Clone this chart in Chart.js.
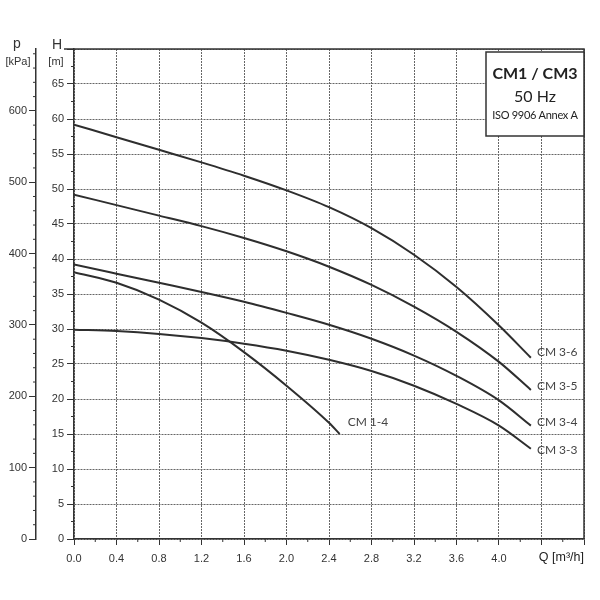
<!DOCTYPE html>
<html>
<head>
<meta charset="utf-8">
<script src="https://cdn.jsdelivr.net/npm/chart.js@4.4.1/dist/chart.umd.min.js"></script>
<style>
  html, body { margin: 0; padding: 0; background: #fff; }
</style>
</head>
<body>
<canvas id="pumpChart" width="600" height="600"></canvas>
<script>
// Caudal Q [m3/h] y altura H [m]
const flowCM3 = [0, 0.4, 0.8, 1.2, 1.6, 2.0, 2.4, 2.8, 3.2, 3.6, 4.0, 4.3];
const headCM36 = [59.2, 57.4, 55.6, 53.8, 51.9, 49.8, 47.4, 44.4, 40.6, 36.0, 30.5, 25.9];
const headCM35 = [49.2, 47.7, 46.2, 44.7, 43.0, 41.1, 38.9, 36.3, 33.2, 29.6, 25.3, 21.3];
const headCM34 = [39.2, 37.9, 36.6, 35.3, 33.9, 32.3, 30.6, 28.6, 26.2, 23.3, 19.8, 16.2];
const headCM33 = [29.9, 29.7, 29.3, 28.7, 27.9, 26.9, 25.6, 24.0, 21.9, 19.3, 16.2, 12.9];
const flowCM14 = [0, 0.4, 0.8, 1.2, 1.6, 2.0, 2.4, 2.5];
const headCM14 = [38.1, 36.6, 34.2, 30.9, 26.7, 21.9, 16.6, 15.0];

const curveNames = ['CM 3-6', 'CM 3-5', 'CM 3-4', 'CM 3-3', 'CM 1-4'];
const boxLines = ['CM1 / CM3', '50 Hz', 'ISO 9906 Annex A'];

const H_MAX = 70;
const P_MAX = H_MAX * 9.81;   // kPa equivalente

const LINE = '#2e2e2e';
const GRID = '#666';
const TEXT = '#333';
const TICK_FONT = { family: 'Liberation Sans', size: 11 };

function toPoints(xs, ys) {
    return xs.map((x, i) => ({ x: x, y: ys[i] }));
}

const seriesData = [
    toPoints(flowCM3, headCM36),
    toPoints(flowCM3, headCM35),
    toPoints(flowCM3, headCM34),
    toPoints(flowCM3, headCM33),
    toPoints(flowCM14, headCM14)
];

// desplazamiento de las etiquetas respecto al final de cada curva
const labelOffsets = {
    'CM 3-6': [6, -6],
    'CM 3-5': [6, -4],
    'CM 3-4': [6, -3],
    'CM 3-3': [6, 1],
    'CM 1-4': [8, -12]
};

const decorPlugin = {
    id: 'decor',
    afterDraw(chart) {
        const ctx = chart.ctx;
        const area = chart.chartArea;
        const xs = chart.scales.x;
        const ys = chart.scales.y;
        const ps = chart.scales.p;

        ctx.save();
        ctx.strokeStyle = TEXT;
        ctx.lineWidth = 1.5;

        // marco superior y derecho
        ctx.beginPath();
        ctx.moveTo(area.left - 10, area.top);
        ctx.lineTo(area.right, area.top);
        ctx.lineTo(area.right, area.bottom);
        ctx.stroke();

        // marcas menores
        ctx.lineWidth = 1;
        ctx.beginPath();
        for (let v = 2.5; v < H_MAX; v += 5) {
            const y = ys.getPixelForValue(v);
            ctx.moveTo(area.left - 3, y);
            ctx.lineTo(area.left, y);
        }
        for (let v = 20; v < P_MAX; v += 20) {
            if (v % 100 === 0) continue;
            const y = ps.getPixelForValue(v);
            ctx.moveTo(ps.right - 3, y);
            ctx.lineTo(ps.right, y);
        }
        for (let v = 0.2; v < 4.8; v += 0.4) {
            const x = xs.getPixelForValue(v);
            ctx.moveTo(x, area.bottom);
            ctx.lineTo(x, area.bottom + 3);
        }
        ctx.stroke();

        // títulos de los ejes
        ctx.fillStyle = TEXT;
        ctx.textAlign = 'center';
        ctx.textBaseline = 'middle';
        ctx.font = '14px "Liberation Sans"';
        ctx.fillText('p', 17, 44);
        ctx.fillText('H', 57, 45);
        ctx.font = '11px "Liberation Sans"';
        ctx.fillText('[kPa]', 18, 62);
        ctx.fillText('[m]', 56, 62);

        ctx.textAlign = 'right';
        ctx.fillStyle = '#222';
        ctx.font = '12.5px "Liberation Sans"';
        ctx.fillText('Q [m³/h]', area.right, area.bottom + 19);

        // nombres de las curvas
        ctx.textAlign = 'left';
        ctx.fillStyle = '#444';
        ctx.font = '12px Lato';
        chart.data.datasets.forEach((ds, i) => {
            const meta = chart.getDatasetMeta(i);
            const last = meta.data[meta.data.length - 1];
            const off = labelOffsets[ds.label] || [6, 0];
            ctx.fillText(ds.label, last.x + off[0], last.y + off[1]);
        });

        // recuadro con el modelo
        const bw = 98, bh = 84;
        const bx = area.right - bw, by = area.top + 3;
        ctx.fillStyle = '#fff';
        ctx.fillRect(bx, by, bw, bh);
        ctx.strokeStyle = TEXT;
        ctx.lineWidth = 1.5;
        ctx.strokeRect(bx, by, bw, bh);
        ctx.fillStyle = '#222';
        ctx.textAlign = 'center';
        const cx = bx + bw / 2;
        ctx.font = 'bold 16px Lato';
        ctx.fillText(boxLines[0], cx, by + 22);
        ctx.font = '16px Lato';
        ctx.fillText(boxLines[1], cx, by + 45);
        ctx.font = '11px Lato';
        ctx.letterSpacing = '-0.3px';
        ctx.fillText(boxLines[2], cx, by + 63);

        ctx.restore();
    }
};

new Chart(document.getElementById('pumpChart').getContext('2d'), {
    type: 'line',
    data: {
        datasets: curveNames.map((name, i) => ({
            label: name,
            data: seriesData[i],
            yAxisID: 'y',
            borderColor: LINE,
            borderWidth: 2,
            pointRadius: 0,
            fill: false,
            cubicInterpolationMode: 'monotone'
        }))
    },
    options: {
        responsive: false,
        animation: false,
        devicePixelRatio: 1,
        layout: {
            padding: { top: 49, right: 16, bottom: 0, left: 0 }
        },
        plugins: {
            legend: { display: false },
            tooltip: { enabled: false }
        },
        scales: {
            x: {
                type: 'linear',
                position: 'bottom',
                min: 0,
                max: 4.8,
                afterFit: function(scale) { scale.height = 61; },
                grid: {
                    color: GRID,
                    lineWidth: 1,
                    tickLength: 6,
                    tickColor: TEXT
                },
                border: { color: TEXT, width: 1.5, dash: [2, 1] },
                ticks: {
                    stepSize: 0.4,
                    autoSkip: false,
                    maxRotation: 0,
                    padding: 7,
                    color: TEXT,
                    font: TICK_FONT,
                    callback: function(value) {
                        return value > 4.3 ? '' : Number(value).toFixed(1);
                    }
                }
            },
            y: {
                type: 'linear',
                position: 'left',
                weight: 0,
                min: 0,
                max: H_MAX,
                afterFit: function(scale) { scale.width = 38; },
                grid: {
                    color: GRID,
                    lineWidth: 1,
                    tickLength: 7,
                    tickColor: TEXT
                },
                border: { color: TEXT, width: 1.5, dash: [2, 1] },
                ticks: {
                    stepSize: 5,
                    autoSkip: false,
                    padding: 3,
                    color: TEXT,
                    font: TICK_FONT,
                    callback: function(value) {
                        return value >= H_MAX ? '' : value;
                    }
                }
            },
            p: {
                type: 'linear',
                position: 'left',
                weight: 1,
                min: 0,
                max: P_MAX,
                afterFit: function(scale) { scale.width = 36; },
                grid: {
                    drawOnChartArea: false,
                    tickLength: 7,
                    tickColor: TEXT
                },
                border: { color: TEXT, width: 1.5 },
                ticks: {
                    stepSize: 100,
                    includeBounds: false,
                    autoSkip: false,
                    padding: 2,
                    color: TEXT,
                    font: TICK_FONT
                }
            }
        }
    },
    plugins: [decorPlugin]
});
</script>
</body>
</html>
